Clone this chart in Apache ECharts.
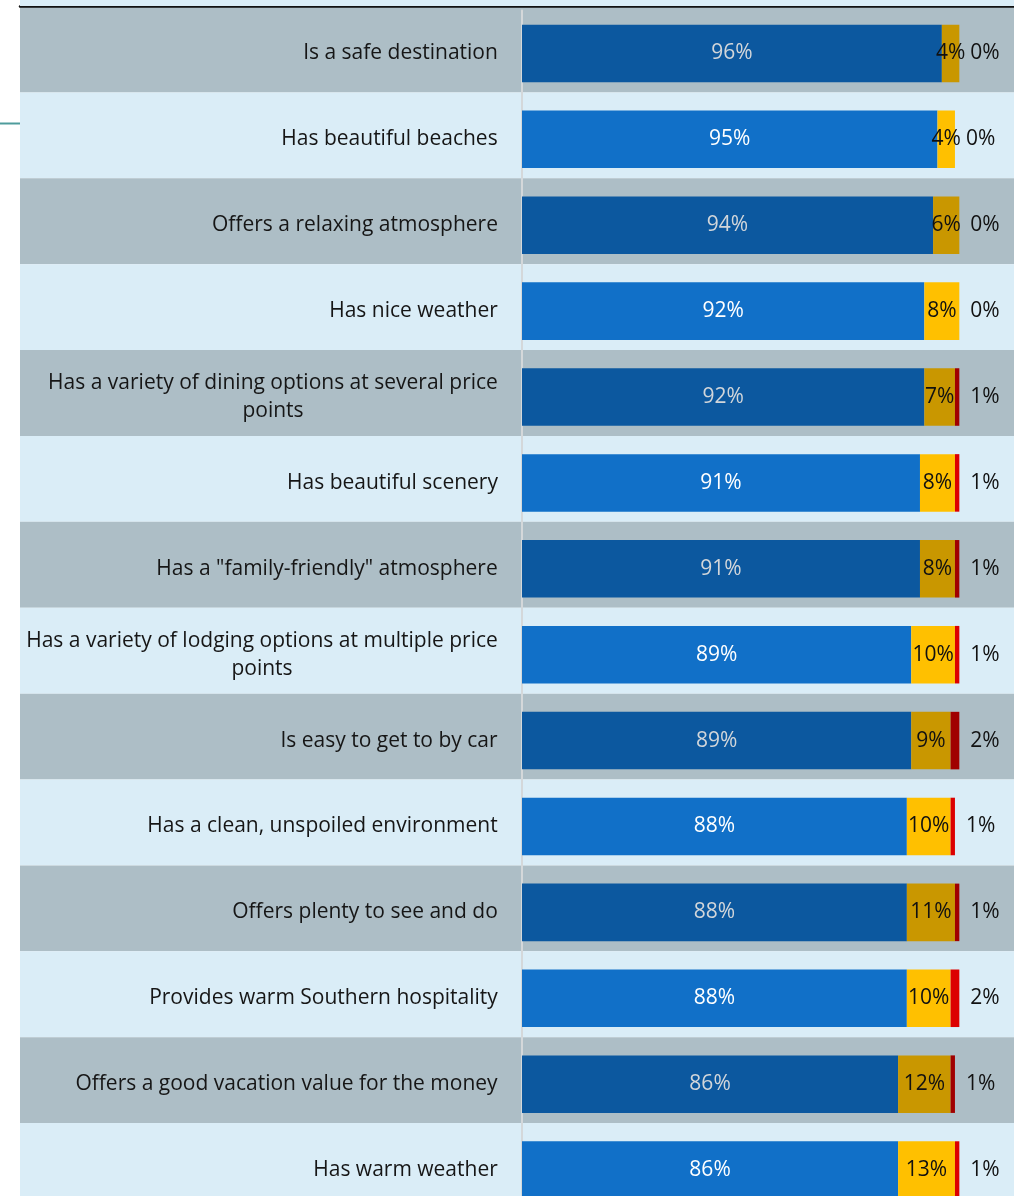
<!DOCTYPE html>
<html>
<head>
<meta charset="utf-8">
<script src="https://cdn.jsdelivr.net/npm/echarts@6/dist/echarts.min.js"></script>
<style>
  html, body { margin: 0; padding: 0; background: #ffffff; }
  #chart { width: 1014px; height: 1196px; }
</style>
</head>
<body>
<div id="chart"></div>
<script>
// Destination attributes (top to bottom)
const categories = [
  'Is a safe destination',
  'Has beautiful beaches',
  'Offers a relaxing atmosphere',
  'Has nice weather',
  'Has a variety of dining options at several price\npoints',
  'Has beautiful scenery',
  'Has a "family-friendly" atmosphere',
  'Has a variety of lodging options at multiple price\npoints',
  'Is easy to get to by car',
  'Has a clean, unspoiled environment',
  'Offers plenty to see and do',
  'Provides warm Southern hospitality',
  'Offers a good vacation value for the money',
  'Has warm weather'
];
// Share of respondents (%)
const agree    = [96, 95, 94, 92, 92, 91, 91, 89, 89, 88, 88, 88, 86, 86];
const neutral  = [4, 4, 6, 8, 7, 8, 8, 10, 9, 10, 11, 10, 12, 13];
const disagree = [0, 0, 0, 0, 1, 1, 1, 1, 2, 1, 1, 2, 1, 1];

const FONT = '"Open Sans", "Noto Sans", sans-serif';
const FS = 21;

// Row palettes: shaded rows use darker tones, light rows brighter ones
const shaded = { band: '#adbec6', agree: '#0c589f', neutral: '#c99700', disagree: '#a00000', agreeText: '#d2d6da' };
const light  = { band: '#daedf7', agree: '#1170c8', neutral: '#ffc000', disagree: '#dc0000', agreeText: '#ffffff' };
const rowStyle = i => (i % 2 === 0 ? shaded : light);

// Wrapped category names are centred line-by-line inside a box as wide as their longest line
const measureCtx = document.createElement('canvas').getContext('2d');
measureCtx.font = FS + 'px ' + FONT;
const rich = {};
categories.forEach((c, i) => {
  const w = Math.max(...c.split('\n').map(s => measureCtx.measureText(s).width));
  rich['r' + i] = { width: Math.ceil(w), align: 'center', fontSize: FS, fontFamily: FONT, color: '#161616', lineHeight: 28 };
});

function items(values, key, withText) {
  return values.map((v, i) => {
    const it = { value: v, itemStyle: { color: rowStyle(i)[key] } };
    if (withText) it.label = { color: rowStyle(i).agreeText };
    return it;
  });
}

const chart = echarts.init(document.getElementById('chart'), null, { renderer: 'canvas' });
chart.setOption({
  animation: false,
  backgroundColor: '#ffffff',
  textStyle: { fontFamily: FONT },
  graphic: [
    { type: 'rect', z: 1, shape: { x: 20, y: 0, width: 994, height: 6 }, style: { fill: light.band } },
    { type: 'line', z: 1, shape: { x1: 0, y1: 123.5, x2: 20, y2: 123.5 }, style: { stroke: '#4f9c9c', lineWidth: 2 } }
  ],
  grid: [
    // full-width banding behind the rows
    { left: 20, right: 0, top: 6.5, bottom: -13, outerBoundsMode: 'none', containLabel: false },
    // bar plot area
    { left: 522, right: 0, top: 10.5, bottom: -17, outerBoundsMode: 'none', containLabel: false }
  ],
  xAxis: [
    {
      gridIndex: 0, type: 'value', min: 0, max: 100, position: 'top',
      axisLine: { show: true, onZero: false, lineStyle: { color: '#111111', width: 2.5 } },
      axisTick: { show: false }, axisLabel: { show: false }, splitLine: { show: false }
    },
    {
      gridIndex: 1, type: 'value', min: 0, max: 112.5,
      axisLine: { show: false, onZero: false }, axisTick: { show: false },
      axisLabel: { show: false }, splitLine: { show: false }
    }
  ],
  yAxis: [
    {
      gridIndex: 0, type: 'category', inverse: true, data: categories,
      axisLine: { show: false }, axisTick: { show: false }, axisLabel: { show: false },
      splitArea: { show: true, areaStyle: { color: [shaded.band, light.band] } }
    },
    {
      gridIndex: 1, type: 'category', inverse: true, data: categories,
      axisLine: { show: true, onZero: false, lineStyle: { color: '#d4d8da', width: 2 } },
      axisTick: { show: false },
      axisLabel: {
        margin: 24, align: 'right',
        formatter: (v, i) => v.split('\n').map(s => '{r' + i + '|' + s + '}').join('\n'),
        rich: rich
      }
    }
  ],
  series: [
    {
      name: 'Agree', type: 'bar', stack: 'total', xAxisIndex: 1, yAxisIndex: 1,
      barWidth: '67%', data: items(agree, 'agree', true),
      label: { show: true, position: 'inside', formatter: '{c}%', fontSize: FS, fontFamily: FONT }
    },
    {
      name: 'Neutral', type: 'bar', stack: 'total', xAxisIndex: 1, yAxisIndex: 1,
      data: items(neutral, 'neutral', false),
      label: { show: true, position: 'inside', formatter: '{c}%', fontSize: FS, fontFamily: FONT, color: '#111111' }
    },
    {
      name: 'Disagree', type: 'bar', stack: 'total', xAxisIndex: 1, yAxisIndex: 1,
      data: items(disagree, 'disagree', false),
      label: { show: true, position: 'right', distance: 11, formatter: '{c}%', fontSize: FS, fontFamily: FONT, color: '#111111' }
    }
  ]
});
</script>
</body>
</html>
